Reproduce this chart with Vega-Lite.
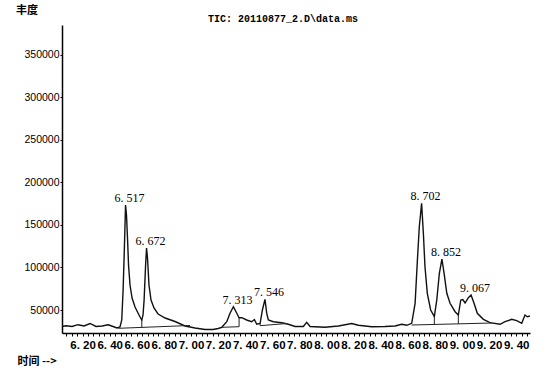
{
  "$schema": "https://vega.github.io/schema/vega-lite/v6.json",
  "width": 468,
  "height": 308,
  "autosize": {"type": "none"},
  "padding": {"left": 62, "top": 25, "right": 21, "bottom": 39},
  "background": "white",
  "config": {
    "view": {"stroke": null},
    "axis": {"grid": false, "domainColor": "#000", "domainWidth": 1.5, "tickColor": "#000", "labelColor": "#000", "titleColor": "#000"}
  },
  "title": {
    "text": "TIC: 20110877_2.D\\data.ms",
    "font": "Liberation Mono",
    "fontSize": 10,
    "fontWeight": "bold",
    "color": "#000",
    "anchor": "middle",
    "dx": -13,
    "baseline": "bottom",
    "offset": -29
  },
  "datasets": {
    "curve": [
      {"t": 6.048, "abundance": 30640},
      {"t": 6.078, "abundance": 31580},
      {"t": 6.122, "abundance": 30640},
      {"t": 6.166, "abundance": 32760},
      {"t": 6.211, "abundance": 31230},
      {"t": 6.255, "abundance": 34170},
      {"t": 6.299, "abundance": 30640},
      {"t": 6.344, "abundance": 31230},
      {"t": 6.388, "abundance": 32640},
      {"t": 6.425, "abundance": 30640},
      {"t": 6.454, "abundance": 28880},
      {"t": 6.476, "abundance": 30050},
      {"t": 6.489, "abundance": 38280},
      {"t": 6.499, "abundance": 73540},
      {"t": 6.508, "abundance": 120550},
      {"t": 6.517, "abundance": 173440},
      {"t": 6.524, "abundance": 161690},
      {"t": 6.532, "abundance": 132300},
      {"t": 6.539, "abundance": 102920},
      {"t": 6.550, "abundance": 79410},
      {"t": 6.565, "abundance": 64140},
      {"t": 6.587, "abundance": 53560},
      {"t": 6.609, "abundance": 46510},
      {"t": 6.628, "abundance": 40630},
      {"t": 6.637, "abundance": 38280},
      {"t": 6.646, "abundance": 44160},
      {"t": 6.654, "abundance": 61780},
      {"t": 6.665, "abundance": 102920},
      {"t": 6.672, "abundance": 122900},
      {"t": 6.679, "abundance": 111150},
      {"t": 6.690, "abundance": 79410},
      {"t": 6.705, "abundance": 61780},
      {"t": 6.727, "abundance": 52380},
      {"t": 6.757, "abundance": 45330},
      {"t": 6.809, "abundance": 40630},
      {"t": 6.882, "abundance": 36520},
      {"t": 6.956, "abundance": 31230},
      {"t": 7.030, "abundance": 28880},
      {"t": 7.104, "abundance": 27110},
      {"t": 7.163, "abundance": 27110},
      {"t": 7.200, "abundance": 28290},
      {"t": 7.227, "abundance": 29700},
      {"t": 7.264, "abundance": 36280},
      {"t": 7.288, "abundance": 46150},
      {"t": 7.313, "abundance": 53910},
      {"t": 7.338, "abundance": 46150},
      {"t": 7.355, "abundance": 40980},
      {"t": 7.375, "abundance": 40980},
      {"t": 7.411, "abundance": 38280},
      {"t": 7.448, "abundance": 36280},
      {"t": 7.468, "abundance": 38870},
      {"t": 7.485, "abundance": 33230},
      {"t": 7.510, "abundance": 34170},
      {"t": 7.527, "abundance": 50030},
      {"t": 7.546, "abundance": 62610},
      {"t": 7.559, "abundance": 46150},
      {"t": 7.571, "abundance": 38280},
      {"t": 7.608, "abundance": 36280},
      {"t": 7.670, "abundance": 35110},
      {"t": 7.718, "abundance": 33230},
      {"t": 7.768, "abundance": 30640},
      {"t": 7.829, "abundance": 30640},
      {"t": 7.854, "abundance": 35580},
      {"t": 7.879, "abundance": 30640},
      {"t": 7.989, "abundance": 29700},
      {"t": 8.088, "abundance": 31230},
      {"t": 8.186, "abundance": 34170},
      {"t": 8.235, "abundance": 32050},
      {"t": 8.334, "abundance": 30400},
      {"t": 8.432, "abundance": 30640},
      {"t": 8.506, "abundance": 31230},
      {"t": 8.555, "abundance": 33230},
      {"t": 8.592, "abundance": 32050},
      {"t": 8.629, "abundance": 34400},
      {"t": 8.654, "abundance": 57910},
      {"t": 8.671, "abundance": 108800},
      {"t": 8.685, "abundance": 147930},
      {"t": 8.702, "abundance": 175440},
      {"t": 8.715, "abundance": 140180},
      {"t": 8.727, "abundance": 100920},
      {"t": 8.744, "abundance": 69660},
      {"t": 8.769, "abundance": 50030},
      {"t": 8.796, "abundance": 42160},
      {"t": 8.814, "abundance": 61780},
      {"t": 8.833, "abundance": 93170},
      {"t": 8.852, "abundance": 109970},
      {"t": 8.868, "abundance": 93170},
      {"t": 8.888, "abundance": 69660},
      {"t": 8.912, "abundance": 57910},
      {"t": 8.949, "abundance": 48030},
      {"t": 8.973, "abundance": 44160},
      {"t": 8.991, "abundance": 61780},
      {"t": 9.006, "abundance": 62370},
      {"t": 9.023, "abundance": 58260},
      {"t": 9.047, "abundance": 64490},
      {"t": 9.067, "abundance": 67660},
      {"t": 9.089, "abundance": 57910},
      {"t": 9.113, "abundance": 46150},
      {"t": 9.158, "abundance": 39100},
      {"t": 9.207, "abundance": 35110},
      {"t": 9.281, "abundance": 33230},
      {"t": 9.318, "abundance": 36280},
      {"t": 9.367, "abundance": 39100},
      {"t": 9.404, "abundance": 37460},
      {"t": 9.441, "abundance": 34400},
      {"t": 9.465, "abundance": 44160},
      {"t": 9.482, "abundance": 42160},
      {"t": 9.502, "abundance": 43000}
    ],
    "integration": [
      {"t": 6.464, "abundance": 28520, "t2": 6.993, "a2": 31810},
      {"t": 6.637, "abundance": 38280, "t2": 6.637, "a2": 29580},
      {"t": 7.227, "abundance": 29700, "t2": 7.355, "a2": 30400},
      {"t": 7.355, "abundance": 40980, "t2": 7.355, "a2": 30400},
      {"t": 7.510, "abundance": 31580, "t2": 7.709, "a2": 34170},
      {"t": 7.510, "abundance": 34170, "t2": 7.510, "a2": 31580},
      {"t": 8.629, "abundance": 32400, "t2": 9.222, "a2": 34750},
      {"t": 8.796, "abundance": 42160, "t2": 8.796, "a2": 33060},
      {"t": 8.973, "abundance": 44160, "t2": 8.973, "a2": 33770}
    ],
    "peaks": [
      {"t": 6.517, "abundance": 173440, "label": "6. 517"},
      {"t": 6.672, "abundance": 122900, "label": "6. 672"},
      {"t": 7.313, "abundance": 53910, "label": "7. 313"},
      {"t": 7.546, "abundance": 62610, "label": "7. 546"},
      {"t": 8.702, "abundance": 175440, "label": "8. 702"},
      {"t": 8.852, "abundance": 109970, "label": "8. 852"},
      {"t": 9.067, "abundance": 67660, "label": "9. 067"}
    ]
  },
  "encoding": {
    "x": {
      "field": "t", "type": "quantitative",
      "scale": {"domain": [6.048, 9.502], "nice": false, "zero": false},
      "axis": {
        "title": "时间 -->",
        "titleFont": "Noto Sans CJK SC",
        "titleFontSize": 11,
        "titleFontWeight": "bold",
        "titleAlign": "left",
        "titleBaseline": "middle",
        "titleAnchor": "start",
        "titleX": -45,
        "titleY": 28,
        "values": [6.08, 6.12, 6.16, 6.2, 6.24, 6.28, 6.32, 6.36, 6.4, 6.44, 6.48, 6.52, 6.56, 6.6, 6.64, 6.68, 6.72, 6.76, 6.8, 6.84, 6.88, 6.92, 6.96, 7.0, 7.04, 7.08, 7.12, 7.16, 7.2, 7.24, 7.28, 7.32, 7.36, 7.4, 7.44, 7.48, 7.52, 7.56, 7.6, 7.64, 7.68, 7.72, 7.76, 7.8, 7.84, 7.88, 7.92, 7.96, 8.0, 8.04, 8.08, 8.12, 8.16, 8.2, 8.24, 8.28, 8.32, 8.36, 8.4, 8.44, 8.48, 8.52, 8.56, 8.6, 8.64, 8.68, 8.72, 8.76, 8.8, 8.84, 8.88, 8.92, 8.96, 9.0, 9.04, 9.08, 9.12, 9.16, 9.2, 9.24, 9.28, 9.32, 9.36, 9.4, 9.44, 9.48],
        "labelExpr": "round(datum.value*100) % 20 === 0 ? replace(format(datum.value, '.2f'), '.', '. ') : ''",
        "labelFont": "Liberation Sans",
        "labelFontSize": 11.5,
        "labelFontWeight": "bold",
        "labelOverlap": false,
        "labelFlush": false,
        "labelBound": false,
        "labelPadding": 3,
        "tickSize": 3,
        "tickWidth": 1
      }
    },
    "y": {
      "field": "abundance", "type": "quantitative",
      "scale": {"domain": [23000, 385000], "nice": false, "zero": false},
      "axis": {
        "title": "丰度",
        "titleFont": "Noto Sans CJK SC",
        "titleFontSize": 11,
        "titleFontWeight": "bold",
        "titleAngle": 0,
        "titleAlign": "center",
        "titleBaseline": "middle",
        "titleX": -35.5,
        "titleY": -14.5,
        "values": [50000, 100000, 150000, 200000, 250000, 300000, 350000],
        "format": "d",
        "labelFont": "Liberation Sans",
        "labelFontSize": 10.5,
        "labelPadding": 1,
        "tickSize": 2,
        "tickWidth": 1
      }
    }
  },
  "layer": [
    {
      "data": {"name": "curve"},
      "mark": {"type": "line", "color": "#111", "strokeWidth": 1.4, "clip": true}
    },
    {
      "data": {"name": "integration"},
      "mark": {"type": "rule", "color": "#222", "strokeWidth": 1},
      "encoding": {
        "x2": {"field": "t2"},
        "y2": {"field": "a2"}
      }
    },
    {
      "data": {"name": "peaks"},
      "mark": {"type": "text", "font": "Liberation Serif", "fontSize": 12, "color": "#000", "baseline": "alphabetic", "align": "center", "dx": 4, "dy": -3},
      "encoding": {
        "text": {"field": "label"}
      }
    }
  ]
}
